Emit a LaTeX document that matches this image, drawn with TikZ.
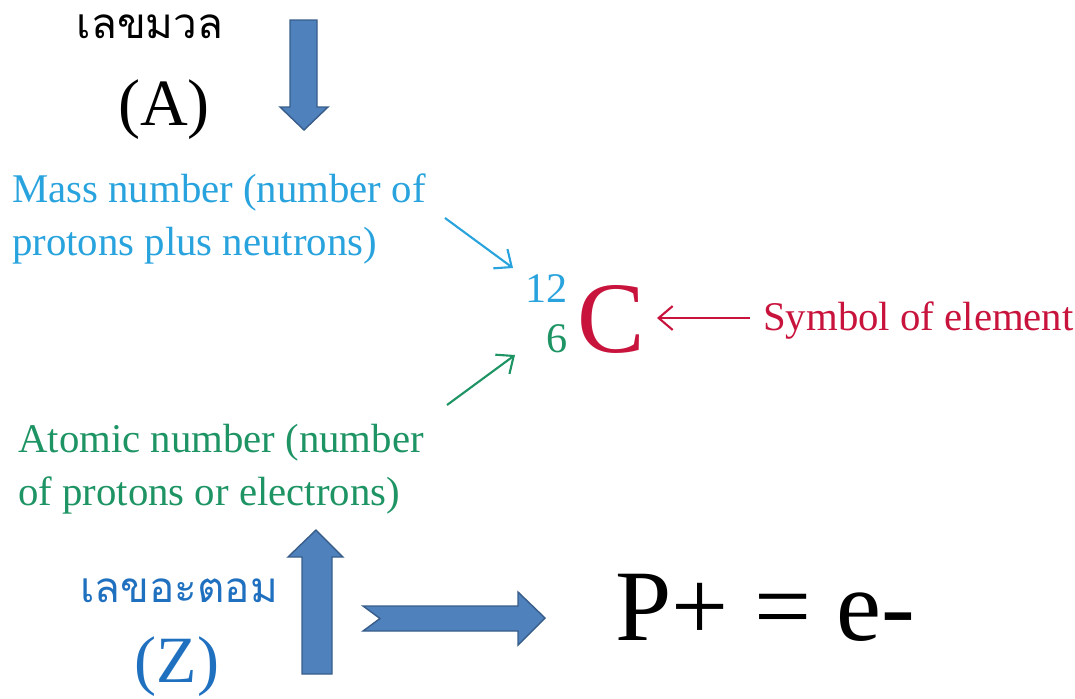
\documentclass[tikz,border=0pt]{standalone}
\usepackage{fontspec}
\setmainfont{Liberation Serif}
\newfontfamily\thaifont[Script=Thai]{Loma}
\usetikzlibrary{arrows.meta,positioning}
\definecolor{massblue}{RGB}{41,163,221}
\definecolor{atomgreen}{RGB}{30,148,100}
\definecolor{symred}{RGB}{200,20,60}
\definecolor{thaiblue}{RGB}{32,112,192}
\definecolor{arrowfill}{RGB}{79,129,189}
\definecolor{arrowedge}{RGB}{56,93,138}

\begin{document}
\begin{tikzpicture}[x=0.025cm,y=-0.025cm,
    txt/.style={inner sep=0pt,align=left,font=\fontsize{29}{37}\selectfont},
    thai/.style={inner sep=0pt,font=\thaifont\fontsize{30}{36}\selectfont},
    paren/.style={inner sep=0pt,font=\fontsize{47}{56}\selectfont},
    thin/.style={line width=1.5pt,-{Straight Barb[length=10pt,width=17pt,line width=1.5pt]}},
    blockarrow/.style={fill=arrowfill,draw=arrowedge,line width=1pt,line join=miter}]
    \useasboundingbox (0,0) rectangle (1075,698);
    % top labels and mass arrow
    \node[thai,anchor=base] (massthai) at (150,38) {เลขมวล};
    \node[paren,anchor=base] (massA) at (164,125) {(A)};
    \draw[blockarrow] (290,20) -- (317,20) -- (317,107) -- (328,107) -- (304,130)
      -- (280,107) -- (290,107) -- cycle;
    % the isotope symbol
    \node[inner sep=0pt,anchor=base west,text=symred,font=\fontsize{72}{84}\selectfont] (sym) at (577,352) {C};
    \node[inner sep=0pt,anchor=base east,text=massblue,font=\fontsize{30}{36}\selectfont] (massnum) at (568,302) {12};
    \node[inner sep=0pt,anchor=base east,text=atomgreen,font=\fontsize{30}{36}\selectfont] (atomnum) at (568,352) {6};
    % descriptions
    \node[txt,text=massblue,anchor=base west] (mass) at (12,255) {Mass number (number of\\protons plus neutrons)};
    \node[txt,text=atomgreen,anchor=base west] (atomic) at (18,505) {Atomic number (number\\of protons or electrons)};
    \node[txt,text=symred,anchor=base west] (symbol) at (763,330) {Symbol of element};
    \coordinate (massTail) at (445,218);
    \coordinate (massHead) at (513,268);
    \coordinate (atomTail) at (447,405);
    \coordinate (atomHead) at (515,355);
    \coordinate (symTail) at (750,318);
    \coordinate (symHead) at (657,318);
    \draw[thin,massblue] (massTail) -- (massHead);
    \draw[thin,atomgreen] (atomTail) -- (atomHead);
    \draw[thin,symred] (symTail) -- (symHead);
    % bottom labels and block arrows
    \node[thai,text=thaiblue,anchor=base] (atomthai) at (179,602) {เลขอะตอม};
    \node[paren,text=thaiblue,anchor=base] (atomZ) at (177,682) {(Z)};
    \draw[blockarrow] (302,674) -- (332,674) -- (332,557) -- (343,557) -- (316,530)
      -- (288,557) -- (302,557) -- cycle;
    \draw[blockarrow] (363,606) -- (518,606) -- (518,592) -- (545,618) -- (518,645)
      -- (518,631) -- (363,631) -- (380,618.5) -- cycle;
    \node[inner sep=0pt,anchor=base west,font=\fontsize{72}{84}\selectfont] (charge) at (615,640) {P+ = e-};
\end{tikzpicture}
\end{document}
